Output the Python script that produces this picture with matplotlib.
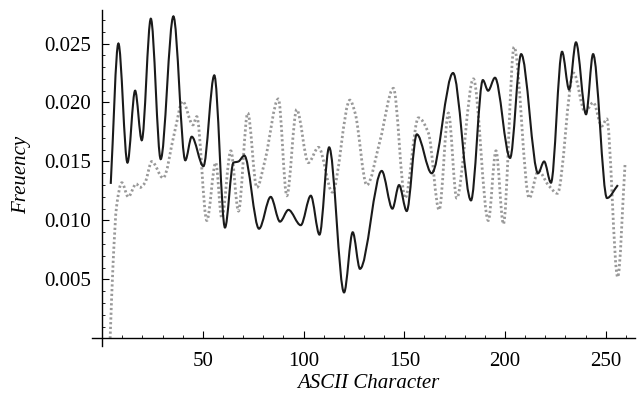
import numpy as np
import matplotlib
matplotlib.use('Agg')
import matplotlib.pyplot as plt
from matplotlib.path import Path
from matplotlib.patches import PathPatch
from matplotlib.ticker import FixedLocator, MultipleLocator, FuncFormatter

# ---- data (local extrema and key points) ----
solid_x = [4.3, 8.1, 12.6, 16.4, 19.7, 24.2, 29.1, 35.4, 41.3, 44.5, 50.3, 55.7, 61.0,
           65.2, 67.7, 70.6, 77.9, 83.7, 88.3, 92.5, 98.6, 103.6, 107.9, 112.7, 120.1,
           124.4, 128.0, 138.8, 144.1, 147.4, 151.2, 156.2, 163.6, 174.2, 183.1, 189.0,
           191.6, 195.0, 202.5, 208.0, 216.4, 219.4, 222.8, 228.3, 231.8, 235.2, 240.2,
           243.7, 250.6, 256.0]
solid_y = [0.0131, 0.0250, 0.0149, 0.0210, 0.0168, 0.0271, 0.0152, 0.0273, 0.0151, 0.0171,
           0.0146, 0.0223, 0.0094, 0.0149, 0.0150, 0.0155, 0.0093, 0.0120, 0.0099, 0.0109,
           0.0096, 0.0121, 0.0088, 0.0162, 0.0039, 0.0090, 0.0059, 0.0142, 0.0110, 0.0130,
           0.0108, 0.0173, 0.0140, 0.0225, 0.0117, 0.0219, 0.0210, 0.0221, 0.0153, 0.0241,
           0.0140, 0.0150, 0.0132, 0.0243, 0.0211, 0.0251, 0.0190, 0.0241, 0.0119, 0.0130]

dotted_x = [4.0, 5.5, 7.2, 9.8, 13.0, 16.9, 18.9, 21.3, 24.7, 30.3, 36.0, 40.0, 45.1, 47.0,
            52.0, 56.4, 59.4, 63.9, 67.7, 72.3, 76.8, 81.0, 87.5, 91.7, 96.6, 102.4, 107.4,
            114.3, 123.0, 125.6, 131.4, 138.0, 144.6, 150.4, 157.0, 162.0, 167.3, 171.9,
            176.0, 184.3, 191.7, 195.5, 199.2, 204.5, 212.0, 216.5, 221.5, 226.0, 234.0,
            239.7, 243.8, 248.0, 250.5, 255.9, 259.6]
dotted_y = [0.0000, 0.0065, 0.0112, 0.0132, 0.0120, 0.0131, 0.0128, 0.0132, 0.0150, 0.0136,
            0.0175, 0.0201, 0.0181, 0.0188, 0.0100, 0.0149, 0.0102, 0.0159, 0.0108, 0.0191,
            0.0128, 0.0152, 0.0203, 0.0121, 0.0194, 0.0149, 0.0162, 0.0124, 0.0202, 0.0191,
            0.0130, 0.0168, 0.0212, 0.0119, 0.0187, 0.0174, 0.0109, 0.0191, 0.0119, 0.0220,
            0.0100, 0.0159, 0.0097, 0.0247, 0.0119, 0.0142, 0.0130, 0.0123, 0.0225, 0.0192,
            0.0200, 0.0180, 0.0186, 0.0052, 0.0149]

x_major = [50, 100, 150, 200, 250]
y_major = [0.005, 0.010, 0.015, 0.020, 0.025]
x_label = 'ASCII Character'
y_label = 'Freuency'


def pchip_slopes(x, y):
    x = np.asarray(x, float); y = np.asarray(y, float)
    h = np.diff(x); d = np.diff(y) / h
    m = np.zeros_like(y)
    for k in range(1, len(x) - 1):
        if d[k - 1] * d[k] <= 0:
            m[k] = 0.0
        else:
            w1 = 2 * h[k] + h[k - 1]; w2 = h[k] + 2 * h[k - 1]
            m[k] = (w1 + w2) / (w1 / d[k - 1] + w2 / d[k])
    m[0] = d[0]; m[-1] = d[-1]
    return m


def smooth_path(x, y):
    m = pchip_slopes(x, y)
    verts = [(x[0], y[0])]
    codes = [Path.MOVETO]
    for k in range(len(x) - 1):
        h = x[k + 1] - x[k]
        verts += [(x[k] + h / 3, y[k] + m[k] * h / 3),
                  (x[k + 1] - h / 3, y[k + 1] - m[k + 1] * h / 3),
                  (x[k + 1], y[k + 1])]
        codes += [Path.CURVE4] * 3
    return Path(verts, codes)


plt.rcParams['font.family'] = ['Liberation Serif', 'DejaVu Serif']

W, H = 639, 400
fig = plt.figure(figsize=(W / 100, H / 100), dpi=100)
ax = fig.add_axes([92 / W, 54 / H, 543 / W, 336 / H])
ax.set_xlim(-5, 264.5)
ax.set_ylim(-0.00064, 0.02784)

ax.add_patch(PathPatch(smooth_path(dotted_x, dotted_y), facecolor='none',
                       edgecolor='#999999', lw=2.0, linestyle=(0, (0.8, 0.9)),
                       capstyle='butt'))
ax.add_patch(PathPatch(smooth_path(solid_x, solid_y), facecolor='none',
                       edgecolor='#1a1a1a', lw=1.5))

for s in ['top', 'right']:
    ax.spines[s].set_visible(False)
ax.spines['left'].set_position(('data', 0))
ax.spines['bottom'].set_position(('data', 0))
for s in ['left', 'bottom']:
    ax.spines[s].set_linewidth(1.0)

ax.xaxis.set_major_locator(FixedLocator(x_major))
ax.xaxis.set_minor_locator(MultipleLocator(10))
ax.yaxis.set_major_locator(FixedLocator(y_major))
ax.yaxis.set_minor_locator(MultipleLocator(0.001))
ax.yaxis.set_major_formatter(FuncFormatter(lambda v, p: f'{v:.3f}'))
ax.tick_params(which='major', direction='in', length=5, width=0.8, labelsize=15)
ax.tick_params(axis='x', which='major', pad=10)
ax.tick_params(axis='y', which='major', pad=8)
ax.tick_params(which='minor', direction='in', length=2.5, width=0.6)

fig.text(368 / W, 1 - 383 / H, x_label, ha='center', va='center',
         fontsize=15, style='italic')
fig.text(22 / W, 1 - 175 / H, y_label, ha='center', va='center',
         fontsize=15, style='italic', rotation=90)

fig.savefig('out.png', dpi=100)
